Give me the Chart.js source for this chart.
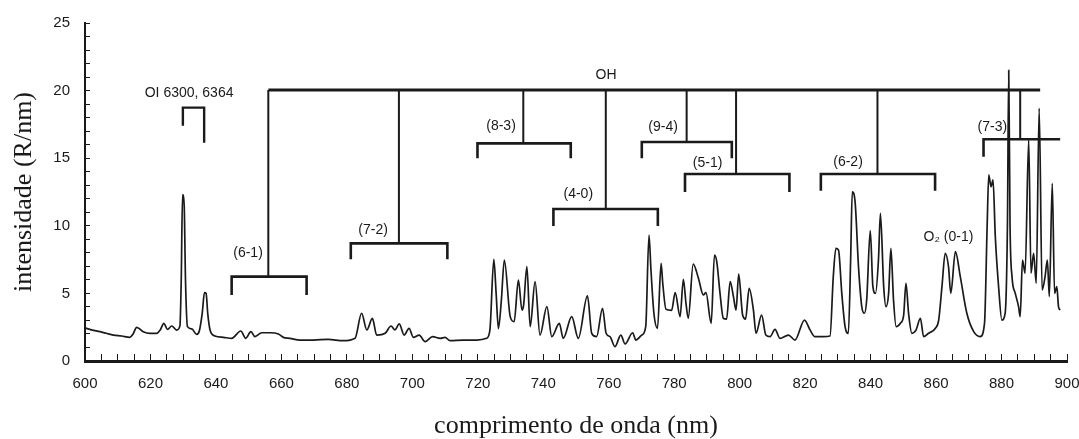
<!DOCTYPE html>
<html>
<head>
<meta charset="utf-8">
<script src="https://cdn.jsdelivr.net/npm/chart.js@4.4.1/dist/chart.umd.min.js"></script>
<style>
  html, body { margin: 0; padding: 0; background: #fff; }
  #wrap { width: 1079px; height: 439px; }
</style>
</head>
<body>
<div id="wrap"><canvas id="spectrum"></canvas></div>
<script>
// Spectrum (wavelength in nm, intensity in R/nm)
const wavelength = [
  600, 602, 604.6, 606.5, 608.7, 611.2, 613.7, 614.7, 615.8, 617.8, 619.9, 621.9, 623, 624.1, 625.2,
  626.5, 628, 629, 629.4, 629.8, 630.3, 630.7, 631.3, 632.6, 634.1, 634.9, 635.8, 636.5, 637, 637.5,
  638.2, 639.7, 642.3, 644.8, 647.6, 649.1, 650.7, 651.9, 654, 656.5, 659.1, 660.6, 662.6, 665.7,
  669.8, 674.3, 678.9, 682.5, 684.5, 686.1, 687.8, 689.1, 691.7, 693.5, 694.7, 696, 697.5, 699,
  700.3, 702.1, 703.9, 706.2, 708.5, 710, 711.5, 715.6, 719.7, 722.7, 723.7, 724.9, 725.6, 726.3,
  727.2, 728.1, 729.9, 731.1, 732.4, 733.5, 734, 735, 736, 737.5, 739, 741.1, 742.6, 744.9, 746.1,
  748.7, 750.7, 753.5, 754.8, 756.3, 758.1, 759.2, 760.4, 761.9, 763.7, 765, 767.3, 768.3, 770.1,
  771.3, 772.3, 772.9, 773.8, 774.9, 776, 776.5, 777.5, 779.2, 780.3, 781.8, 782.8, 783.6, 784.3,
  785.8, 787.4, 788.9, 789.7, 791.3, 792.3, 793, 794, 795, 796, 797.1, 798.1, 798.9, 799.7, 800.9,
  801.8, 802.9, 804.2, 805, 806.7, 808, 809.3, 810.8, 812.3, 814.9, 816.9, 819.8, 821.5, 823, 825.6,
  827.6, 828.6, 829.4, 830.2, 831.2, 832.2, 833.2, 833.9, 834.4, 835.3, 836.3, 837.3, 838.1, 838.8,
  839.9, 840.7, 841.5, 842.4, 843, 844, 844.7, 845.5, 846.2, 847, 847.8, 849.1, 850.1, 850.8, 851.6,
  852.6, 853.9, 855.2, 856.2, 857.7, 859.8, 860.8, 861.8, 862.8, 863.8, 864.5, 865.9, 867.4, 869.4,
  871.5, 873.5, 874.8, 875.6, 876.1, 876.8, 877.4, 878.1, 879.1, 880.1, 881.1, 881.8, 882.2, 882.6,
  883.2, 884.2, 885.2, 885.7, 886.4, 887.2, 888.3, 889, 889.8, 890.6, 891.5, 892.4, 893.3, 894,
  894.6, 895.5, 896.2, 896.9, 897.4, 897.9
];
const intensity = [
  2.45, 2.3, 2.17, 2.05, 1.92, 1.85, 1.75, 2.0, 2.49, 2.17, 2.05, 2.05, 2.3, 2.79, 2.34,
  2.59, 2.29, 2.6, 6.0, 12.3, 11.5, 6.0, 2.54, 2.37, 1.97, 2.2, 3.5, 5.05, 5.0, 3.5,
  2.3, 1.85, 1.75, 1.68, 2.22, 1.68, 2.17, 1.8, 2.09, 2.09, 2.0, 1.75, 1.68, 1.55,
  1.55, 1.6, 1.5, 1.68, 3.53, 2.3, 3.15, 1.92, 2.05, 2.59, 2.3, 2.74, 1.92, 2.42,
  1.75, 1.92, 1.43, 1.8, 1.68, 1.75, 1.5, 1.55, 1.55, 1.68, 2.3, 7.52, 5.0, 2.4,
  4.5, 7.47, 3.28, 2.91, 5.99, 3.77, 4.14, 6.98, 2.54, 5.87, 1.92, 4.02, 1.8, 2.79, 1.68,
  3.28, 1.68, 4.81, 2.05, 1.8, 3.9, 2.05, 1.8, 1.06, 1.92, 1.26, 2.09, 1.55, 1.92,
  2.54, 9.32, 6.73, 3.53, 2.42, 7.22, 5.75, 3.82, 3.75, 5.05, 3.28, 6.04, 4.27, 3.16,
  7.17, 6.12, 4.88, 5.05, 2.79, 7.84, 7.35, 5.0, 3.16, 3.1, 5.87, 4.76, 3.77, 6.43, 3.4,
  3.1, 5.38, 3.77, 2.05, 3.4, 1.92, 1.8, 2.34, 1.68, 1.92, 1.55, 3.03, 2.3, 1.8, 1.8,
  1.85, 6.24, 8.33, 8.2, 5.0, 2.54, 2.05, 7.47, 12.52, 11.66, 6.98, 4.02, 3.53, 4.51,
  9.64, 5.5, 5.0, 7.47, 10.92, 5.5, 4.02, 5.0, 8.33, 4.51, 2.54, 2.79, 3.4, 5.75, 3.53,
  2.05, 2.3, 3.16, 1.8, 2.05, 2.42, 3.03, 5.5, 7.97, 6.98, 5.0, 8.09, 6.24, 3.53,
  2.17, 1.8, 2.79, 9.93, 13.76, 12.89, 13.39, 9.19, 5.5, 3.03, 3.53, 10.0, 21.5, 10.0,
  6.24, 5.0, 4.02, 3.28, 7.47, 6.49, 16.35, 6.49, 7.97, 5.75, 18.69, 5.25, 6.24, 7.47,
  4.76, 13.14, 5.0, 5.5, 4.02, 3.77
];

// OH band tree: main bar and the bands hanging from it
const ohLevel = 20.05;
const ohFrom = 656;
const ohTo = 891.8;
const bandNames = ["(6-1)", "(7-2)", "(8-3)", "(4-0)", "(9-4)", "(5-1)", "(6-2)", "(7-3)"];
const bandDrop = [656, 695.9, 733.9, 759.1, 783.8, 798.9, 842.1, 885.7];
const bandFrom = [644.8, 681.2, 719.9, 743.1, 770.1, 783.3, 824.8, 874.5];
const bandTo = [667.7, 710.7, 748.4, 775, 797.6, 815.2, 859.7, 897.9];
const bandLevel = [6.24, 8.7, 16.1, 11.24, 16.2, 13.83, 13.83, 16.4];
const bandTickLeft = [4.88, 7.52, 15.0, 9.99, 15.0, 12.5, 12.6, 15.1];
const bandTickRight = [4.88, 7.52, 15.0, 9.99, 15.0, 12.5, 12.6, 16.4];
const bandLabelX = [649.8, 688, 727.1, 750.7, 776.6, 790.2, 833.1, 877.2];
const bandLabelY = [7.97, 9.7, 17.38, 12.35, 17.33, 14.62, 14.7, 17.33];

// OI doublet bracket
const oiFrom = 629.9;
const oiTo = 636.4;
const oiLevel = 18.74;
const oiTickLeft = 17.4;
const oiTickRight = 16.15;

// Free text labels
const textLabels = ["OH", "OI 6300, 6364", "O\u2082 (0-1)"];
const textX = [759.2, 631.8, 863.8];
const textY = [21.15, 19.8, 9.19];

// Axis ticks
const xMin = 600, xMax = 900, xStep = 5, xLabelEvery = 20;
const yMin = 0, yMax = 25, yStep = 1, yLabelEvery = 5;

const ink = "#1a1a1a";
const tickFont = { family: "'Liberation Sans', Arial, sans-serif", size: 15 };
const titleFont = { family: "'Liberation Serif', 'Times New Roman', serif", size: 26, lineHeight: 1 };

function bracketLine(points, width) {
  return {
    data: points.map(([x, y]) => ({ x: x, y: y })),
    borderColor: ink,
    borderWidth: width,
    pointRadius: 0,
    tension: 0,
    fill: false,
  };
}

const datasets = [];

// Spectrum
datasets.push({
  data: wavelength.map((w, i) => ({ x: w, y: intensity[i] })),
  borderColor: ink,
  borderWidth: 1.7,
  pointRadius: 0,
  cubicInterpolationMode: "monotone",
  fill: false,
});

// OH main bar
datasets.push(bracketLine([[ohFrom, ohLevel], [ohTo, ohLevel]], 3));

// Band brackets and drops
bandNames.forEach((name, i) => {
  datasets.push(bracketLine([[bandDrop[i], ohLevel], [bandDrop[i], bandLevel[i]]], 2));
  datasets.push(
    bracketLine(
      [
        [bandFrom[i], bandTickLeft[i]],
        [bandFrom[i], bandLevel[i]],
        [bandTo[i], bandLevel[i]],
        [bandTo[i], bandTickRight[i]],
      ],
      2.6
    )
  );
});

// OI bracket
datasets.push(
  bracketLine(
    [
      [oiFrom, oiTickLeft],
      [oiFrom, oiLevel],
      [oiTo, oiLevel],
      [oiTo, oiTickRight],
    ],
    2.4
  )
);

// Text labels drawn on the plot through the scales
const labelPlugin = {
  id: "labels",
  afterDatasetsDraw(chart) {
    const ctx = chart.ctx;
    const xs = chart.scales.x;
    const ys = chart.scales.y;
    ctx.save();
    ctx.fillStyle = ink;
    ctx.font = "14px 'Liberation Sans', Arial, sans-serif";
    ctx.textAlign = "center";
    ctx.textBaseline = "middle";
    bandNames.forEach((name, i) => {
      ctx.fillText(name, xs.getPixelForValue(bandLabelX[i]), ys.getPixelForValue(bandLabelY[i]));
    });
    textLabels.forEach((t, i) => {
      ctx.fillText(t, xs.getPixelForValue(textX[i]), ys.getPixelForValue(textY[i]));
    });
    ctx.restore();
  },
};

const ctx = document.getElementById("spectrum").getContext("2d");
new Chart(ctx, {
  type: "line",
  data: { datasets: datasets },
  plugins: [labelPlugin],
  options: {
    responsive: true,
    maintainAspectRatio: false,
    animation: false,
    layout: { padding: { top: 23, right: 12, left: 0, bottom: 0 } },
    plugins: {
      legend: { display: false },
      tooltip: { enabled: false },
    },
    scales: {
      x: {
        type: "linear",
        min: xMin,
        max: xMax,
        afterFit: (scale) => {
          scale.height = 78;
          scale.paddingRight = 0;
        },
        border: { color: ink, width: 3 },
        grid: { drawOnChartArea: false, color: ink, tickLength: -7, lineWidth: 1 },
        ticks: {
          stepSize: xStep,
          autoSkip: false,
          maxRotation: 0,
          padding: 21,
          color: ink,
          font: tickFont,
          callback: (v) => (v % xLabelEvery === 0 ? String(v) : ""),
        },
        title: {
          display: true,
          text: "comprimento de onda (nm)",
          color: ink,
          padding: { top: 0, bottom: 0 },
          font: titleFont,
        },
      },
      y: {
        min: yMin,
        max: yMax,
        afterFit: (scale) => {
          scale.width = 85;
          scale.paddingTop = 0;
        },
        border: { color: ink, width: 2 },
        grid: { drawOnChartArea: false, color: ink, tickLength: -5, lineWidth: 1 },
        ticks: {
          stepSize: yStep,
          autoSkip: false,
          padding: 20,
          color: ink,
          font: tickFont,
          callback: (v) => (v % yLabelEvery === 0 ? String(v) : ""),
        },
        title: {
          display: true,
          text: "intensidade (R/nm)",
          color: ink,
          padding: { top: 11, bottom: 0 },
          font: titleFont,
        },
      },
    },
  },
});
</script>
</body>
</html>
